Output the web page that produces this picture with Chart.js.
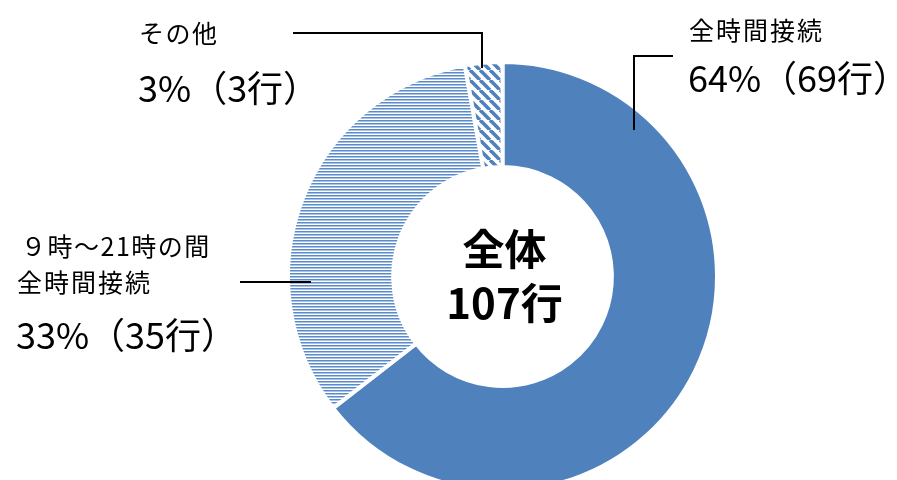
<!DOCTYPE html>
<html>
<head>
<meta charset="utf-8">
<script src="https://cdn.jsdelivr.net/npm/chart.js@4/dist/chart.umd.min.js"></script>
<style>
html,body{margin:0;padding:0;background:#fff;overflow:hidden;}
#wrap{position:relative;width:897px;height:560px;}
</style>
</head>
<body>
<div id="wrap"><canvas id="c" width="897" height="560"></canvas></div>
<script>
const categories = ['全時間接続', '９時～21時の間\n全時間接続', 'その他'];
const rowCounts = [69, 35, 3];
const percentLabels = ['64%（69行）', '33%（35行）', '3%（3行）'];
const centerLines = ['全体', '107行'];

const FONT = '"Noto Sans CJK JP", "Noto Sans", sans-serif';
const BLUE = '#4F81BD';

function hStripe(){
  const c = document.createElement('canvas'); c.width = 3; c.height = 3;
  const x = c.getContext('2d');
  x.fillStyle = '#5A8AC8'; x.fillRect(0,0,3,1);
  x.fillStyle = '#A9C3E6'; x.fillRect(0,1,3,1);
  x.fillStyle = '#FFFFFF'; x.fillRect(0,2,3,1);
  return x.createPattern(c,'repeat');
}
function dStripe(){
  const s = 10;
  const c = document.createElement('canvas'); c.width = s; c.height = s;
  const x = c.getContext('2d');
  x.fillStyle = '#fff'; x.fillRect(0,0,s,s);
  x.strokeStyle = BLUE; x.lineWidth = 3.6;
  for (let k = -1; k <= 1; k++){
    x.beginPath(); x.moveTo(k*s, 0); x.lineTo(k*s + s, s); x.stroke();
  }
  return x.createPattern(c,'repeat');
}

function spaced(ctx, text, x, y, sp){
  ctx.letterSpacing = sp + 'px';
  ctx.fillText(text, x, y);
  ctx.letterSpacing = '0px';
}

const labelPlugin = {
  id: 'labels',
  afterDraw(chart){
    const ctx = chart.ctx;
    const arc = chart.getDatasetMeta(0).data[0];
    ctx.save();
    ctx.fillStyle = '#000';
    ctx.textBaseline = 'middle';
    // center text
    ctx.textAlign = 'center';
    ctx.font = 'bold 42px ' + FONT;
    ctx.fillText(centerLines[0], arc.x + 2, arc.y - 27);
    ctx.fillText(centerLines[1], arc.x + 2, arc.y + 27);
    // labels
    ctx.textAlign = 'left';
    ctx.font = '25px ' + FONT;
    spaced(ctx, categories[0], 689, 30, 2);
    spaced(ctx, categories[2], 139, 33, 1.5);
    const two = categories[1].split('\n');
    spaced(ctx, two[0], 21, 246, 1.5);
    spaced(ctx, two[1], 17, 282, 2);
    ctx.font = '36px ' + FONT;
    ctx.fillText(percentLabels[0], 688, 78);
    ctx.fillText(percentLabels[2], 138, 88);
    ctx.fillText(percentLabels[1], 16, 335);
    // leader lines
    ctx.strokeStyle = '#000'; ctx.lineWidth = 2;
    ctx.beginPath();
    ctx.moveTo(293, 33); ctx.lineTo(482, 33); ctx.lineTo(482, 68);
    ctx.moveTo(673, 56); ctx.lineTo(634, 56); ctx.lineTo(634, 130);
    ctx.moveTo(240, 282); ctx.lineTo(311, 282);
    ctx.stroke();
    ctx.restore();
  }
};

new Chart(document.getElementById('c'), {
  type: 'doughnut',
  data: {
    labels: categories,
    datasets: [{
      data: rowCounts,
      backgroundColor: [BLUE, hStripe(), dStripe()],
      borderColor: '#fff',
      borderWidth: 4
    }]
  },
  options: {
    responsive: false,
    animation: false,
    cutout: '51%',
    layout: { padding: { top: 60, bottom: 67, left: 286, right: 178 } },
    plugins: { legend: { display: false }, tooltip: { enabled: false } }
  },
  plugins: [labelPlugin]
});
</script>
</body>
</html>
